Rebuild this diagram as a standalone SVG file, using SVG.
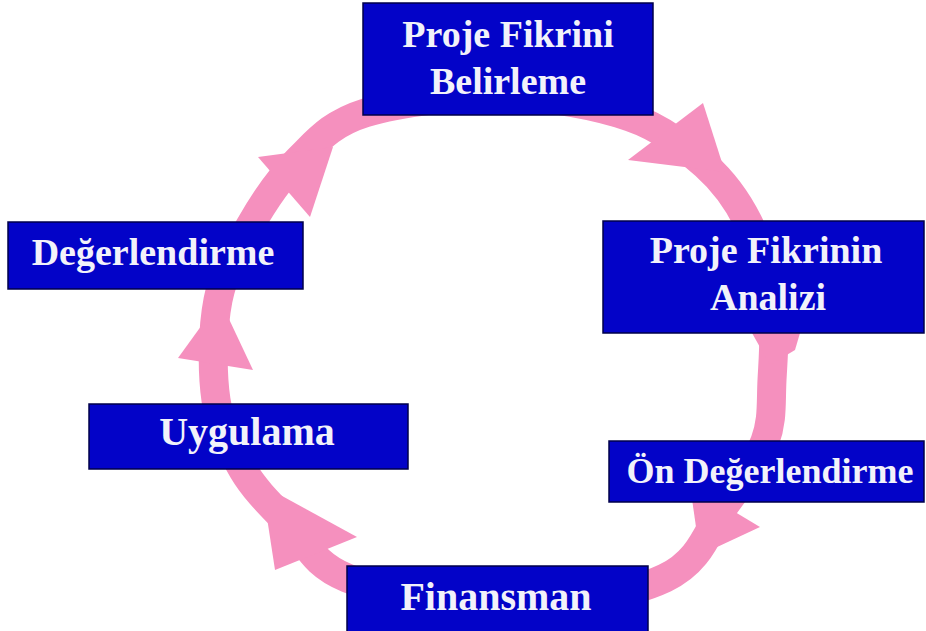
<svg xmlns="http://www.w3.org/2000/svg" width="926" height="631" viewBox="0 0 926 631">
<style>
.ring{fill:none;stroke:#F590BE;stroke-width:29;stroke-linejoin:round}
.ah{fill:#F590BE;stroke:none}
.box{fill:#0303C8;stroke:#00004A;stroke-width:1.5}
.lbl{font-family:"Liberation Serif","DejaVu Serif",serif;font-weight:bold;font-size:38px;fill:#F2F2FA;text-anchor:middle}
</style>
<rect width="926" height="631" fill="#FFFFFF"/>
<g id="connectors">
<path class="ring" d="M505,96 C549.2,96.7 596.7,105.5 630,117 C663.3,128.5 685.3,147.5 705,165 C724.7,182.5 736.8,199.5 748,222 C759.2,244.5 768,273.7 772,300 C776,326.3 773.2,356.5 772,380 C770.8,403.5 772.8,420.2 765,441 C757.2,461.8 741.7,482.2 725,505 C708.3,527.8 702.5,560.5 665,578 C627.5,595.5 553,610 500,610 C447,610 382,592.2 347,578 C312,563.8 307.3,543 290,525 C272.7,507 255.3,490.8 243,470 C230.7,449.2 220.2,428.3 216,400 C211.8,371.7 212.3,329 218,300 C223.7,271 236.7,249.3 250,226 C263.3,202.7 278.8,178.8 298,160 C317.2,141.2 330.5,123.7 365,113 C399.5,102.3 460.8,95.3 505,96 Z"/>
<polygon class="ah" points="258,157 333,147 310,217"/>
<polygon class="ah" points="703,103 725,172 628,160"/>
<polygon class="ah" points="752,333 800,333 795,350 770,365"/>
<polygon class="ah" points="690,485 760,527 700,555"/>
<polygon class="ah" points="357,537 262,485 275,570"/>
<polygon class="ah" points="178,358 220,300 253,370"/>
</g>
<g id="n1">
<rect class="box" x="363" y="3" width="290" height="112"/>
<text class="lbl" x="508" y="47">Proje Fikrini</text>
<text class="lbl" x="508" y="94">Belirleme</text>
</g>
<g id="n2">
<rect class="box" x="603" y="221" width="321" height="112"/>
<text class="lbl" x="766" y="263">Proje Fikrinin</text>
<text class="lbl" x="768" y="310">Analizi</text>
</g>
<g id="n3">
<rect class="box" x="609" y="441" width="315" height="61"/>
<text class="lbl" x="770" y="483" style="font-size:36px">Ön Değerlendirme</text>
</g>
<g id="n4">
<rect class="box" x="347" y="566" width="301" height="70"/>
<text class="lbl" x="496" y="610" style="font-size:40px">Finansman</text>
</g>
<g id="n5">
<rect class="box" x="8" y="222" width="295" height="67"/>
<text class="lbl" x="153" y="265">Değerlendirme</text>
</g>
<g id="n6">
<rect class="box" x="89" y="404" width="319" height="65"/>
<text class="lbl" x="247" y="445" style="font-size:40px">Uygulama</text>
</g>
</svg>
